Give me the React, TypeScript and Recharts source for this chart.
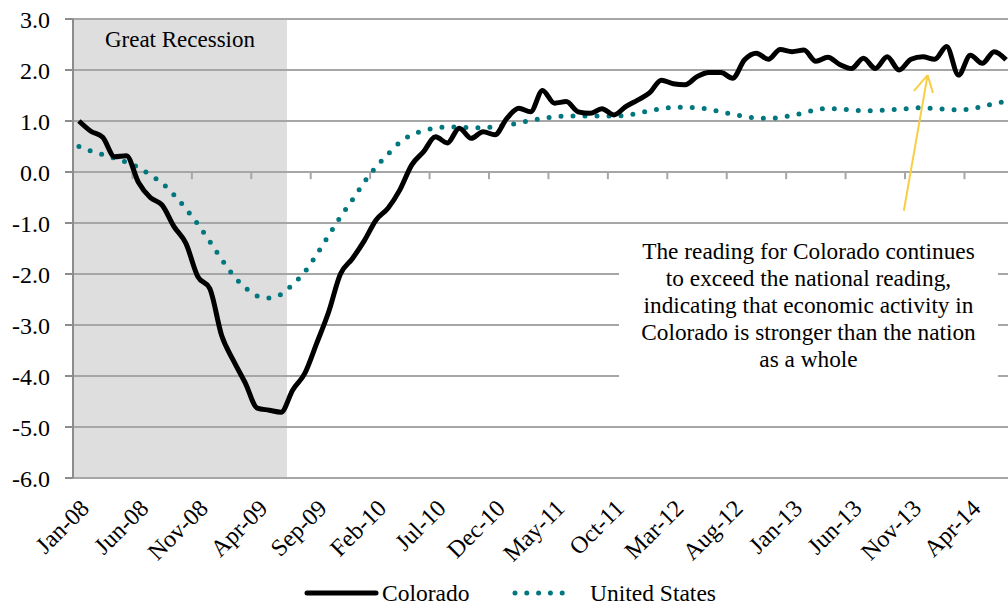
import React from 'react';
import { LineChart, Line, XAxis, YAxis, ReferenceArea, ReferenceLine, Label } from 'recharts';

const MONTH_LABELS = [
  'Jan-08','Feb-08','Mar-08','Apr-08','May-08','Jun-08','Jul-08','Aug-08','Sep-08','Oct-08','Nov-08','Dec-08',
  'Jan-09','Feb-09','Mar-09','Apr-09','May-09','Jun-09','Jul-09','Aug-09','Sep-09','Oct-09','Nov-09','Dec-09',
  'Jan-10','Feb-10','Mar-10','Apr-10','May-10','Jun-10','Jul-10','Aug-10','Sep-10','Oct-10','Nov-10','Dec-10',
  'Jan-11','Feb-11','Mar-11','Apr-11','May-11','Jun-11','Jul-11','Aug-11','Sep-11','Oct-11','Nov-11','Dec-11',
  'Jan-12','Feb-12','Mar-12','Apr-12','May-12','Jun-12','Jul-12','Aug-12','Sep-12','Oct-12','Nov-12','Dec-12',
  'Jan-13','Feb-13','Mar-13','Apr-13','May-13','Jun-13','Jul-13','Aug-13','Sep-13','Oct-13','Nov-13','Dec-13',
  'Jan-14','Feb-14','Mar-14','Apr-14','May-14','Jun-14','Jul-14',
];

const COLORADO = [
  1.0, 0.8, 0.68, 0.3, 0.32, -0.2, -0.5, -0.65, -1.07, -1.4, -2.05, -2.28,
  -3.2, -3.7, -4.14, -4.63, -4.67, -4.71, -4.27, -3.95, -3.36, -2.75, -2.0, -1.7,
  -1.35, -0.94, -0.71, -0.35, 0.14, 0.4, 0.69, 0.57, 0.86, 0.66, 0.79, 0.73,
  1.05, 1.25, 1.18, 1.6, 1.35, 1.38, 1.18, 1.15, 1.24, 1.12, 1.28, 1.41,
  1.55, 1.8, 1.73, 1.71, 1.87, 1.95, 1.95, 1.84, 2.2, 2.33, 2.21, 2.4,
  2.36, 2.39, 2.17, 2.25, 2.11, 2.03, 2.23, 2.03, 2.26, 2.0, 2.21, 2.26,
  2.21, 2.46, 1.9, 2.29, 2.13, 2.36, 2.2,
];

const UNITED_STATES = [
  0.5, 0.41, 0.34, 0.27, 0.19, 0.09, -0.06, -0.22, -0.45, -0.72, -1.02, -1.36,
  -1.71, -2.03, -2.27, -2.43, -2.47, -2.4, -2.2, -1.96, -1.62, -1.25, -0.88, -0.55,
  -0.2, 0.1, 0.35, 0.58, 0.73, 0.81, 0.86, 0.88, 0.88, 0.87, 0.87, 0.89,
  0.92, 0.96, 1.01, 1.05, 1.08, 1.1, 1.1, 1.1, 1.1, 1.1, 1.11, 1.15,
  1.2, 1.24, 1.27, 1.27, 1.26, 1.23, 1.18, 1.13, 1.09, 1.06, 1.05, 1.07,
  1.11, 1.16, 1.22, 1.25, 1.23, 1.22, 1.2, 1.2, 1.22, 1.23, 1.25, 1.26,
  1.24, 1.23, 1.22, 1.23, 1.29, 1.34, 1.39,
];

const Y_TICKS = [3, 2, 1, 0, -1, -2, -3, -4, -5, -6];
const X_TICK_INDEX = [0, 5, 10, 15, 20, 25, 30, 35, 40, 45, 50, 55, 60, 65, 70, 75];
const X_TICK_MARKS = [4.5, 9.5, 14.5, 19.5, 24.5, 29.5, 34.5, 39.5, 44.5, 49.5, 54.5, 59.5, 64.5, 69.5, 74.5];
const RECESSION = { from: -0.5, to: 17.5, label: 'Great Recession' };
const ARROW = { tail: { x: 69.4, y: -0.76 }, tip: { x: 71.4, y: 1.9 }, left: { x: 70.25, y: 1.59 }, right: { x: 71.85, y: 1.55 } };
const NOTE_LINES = [
  'The reading for Colorado continues',
  'to exceed the national reading,',
  'indicating that economic activity in',
  'Colorado is stronger than the nation',
  'as a whole',
];

const FONT = '"Liberation Serif", "DejaVu Serif", serif';
const GRID = '#a6a6a6';
const AXIS = '#8c8c8c';
const TEAL = '#00777f';
const YELLOW = '#f7cf45';

const data = MONTH_LABELS.map((m, i) => ({ i, month: m, co: COLORADO[i], us: UNITED_STATES[i] }));

const XTick = (props: any) => {
  const { x, y, payload } = props;
  return (
    <g transform={`translate(${x + 6},${y + 26})`}>
      <text transform="rotate(-45)" textAnchor="end" dominantBaseline="central" fontSize={24} fontFamily={FONT} fill="#000">
        {MONTH_LABELS[payload.value]}
      </text>
    </g>
  );
};

export default function App() {
  return (
    <div style={{ position: 'absolute', left: 0, top: 0, width: 1008, height: 605, overflow: 'hidden', background: '#fff', fontFamily: FONT }}>
      <LineChart width={1012} height={605} data={data} margin={{ top: 19, right: 0, bottom: 27, left: 0 }}>
        <ReferenceArea x1={RECESSION.from} x2={RECESSION.to} y1={-6} y2={3} fill="#dedede" fillOpacity={1} stroke="none" ifOverflow="visible">
          <Label value={RECESSION.label} position="insideTop" offset={12} fontSize={23} fontFamily={FONT} fill="#000" />
        </ReferenceArea>
        {Y_TICKS.map((t) => (
          <ReferenceLine key={`g${t}`} y={t} stroke={GRID} strokeWidth={2} ifOverflow="visible" />
        ))}
        {X_TICK_MARKS.map((t) => (
          <ReferenceLine key={`t${t}`} segment={[{ x: t, y: 0 }, { x: t, y: -0.14 }]} stroke={GRID} strokeWidth={2} ifOverflow="visible" />
        ))}
        <XAxis
          dataKey="i"
          type="number"
          domain={[-0.5, 78.5]}
          allowDataOverflow
          ticks={X_TICK_INDEX}
          interval={0}
          axisLine={false}
          tickLine={false}
          tickSize={0}
          tickMargin={0}
          height={100}
          tick={<XTick />}
        />
        <YAxis
          type="number"
          domain={[-6, 3]}
          allowDataOverflow
          ticks={Y_TICKS}
          interval={0}
          width={73}
          tickSize={8}
          tickMargin={15}
          axisLine={{ stroke: AXIS, strokeWidth: 2 }}
          tickLine={{ stroke: AXIS, strokeWidth: 2 }}
          tick={{ fontSize: 24, fontFamily: FONT, fill: '#000' }}
          tickFormatter={(v: number) => v.toFixed(1)}
        />
        <Line
          type="monotone"
          dataKey="us"
          name="United States"
          stroke={TEAL}
          strokeWidth={5}
          strokeDasharray="0 12"
          strokeLinecap="round"
          dot={false}
          activeDot={false}
          isAnimationActive={false}
        />
        <Line
          type="monotone"
          dataKey="co"
          name="Colorado"
          stroke="#000"
          strokeWidth={5}
          strokeLinejoin="round"
          dot={false}
          activeDot={false}
          isAnimationActive={false}
        />
        <ReferenceLine segment={[ARROW.tail, ARROW.tip]} stroke={YELLOW} strokeWidth={2} ifOverflow="visible" />
        <ReferenceLine segment={[ARROW.left, ARROW.tip]} stroke={YELLOW} strokeWidth={2} ifOverflow="visible" />
        <ReferenceLine segment={[ARROW.right, ARROW.tip]} stroke={YELLOW} strokeWidth={2} ifOverflow="visible" />
      </LineChart>

      <div style={{ position: 'absolute', left: 619, top: 228, width: 379, height: 150, background: '#fff', textAlign: 'center', fontSize: 23.3, lineHeight: '27px', paddingTop: 10, boxSizing: 'border-box', color: '#000' }}>
        {NOTE_LINES.map((l) => (
          <div key={l} style={{ whiteSpace: 'nowrap' }}>{l}</div>
        ))}
      </div>

      <svg style={{ position: 'absolute', left: 0, top: 578 }} width={1008} height={27}>
        <line x1={307} y1={15} x2={376} y2={15} stroke="#000" strokeWidth={5} strokeLinecap="round" />
        <line x1={515} y1={15} x2={574} y2={15} stroke={TEAL} strokeWidth={5} strokeDasharray="0 11.8" strokeLinecap="round" />
        <text x={382} y={15} dominantBaseline="central" fontSize={23.5} fontFamily={FONT} fill="#000">Colorado</text>
        <text x={590} y={15} dominantBaseline="central" fontSize={23.5} fontFamily={FONT} fill="#000">United States</text>
      </svg>
    </div>
  );
}
